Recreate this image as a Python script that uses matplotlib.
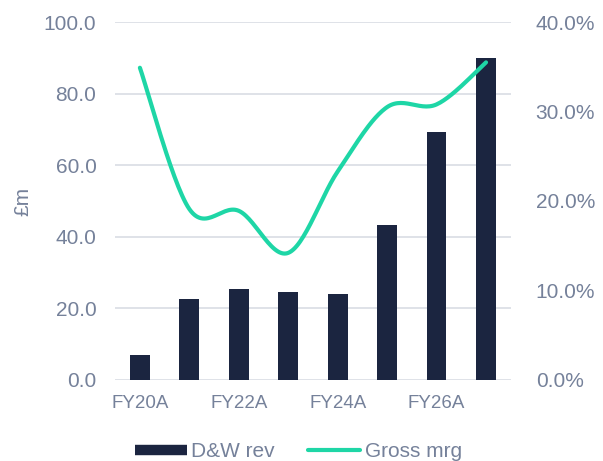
import numpy as np
import matplotlib.pyplot as plt
from matplotlib.lines import Line2D
from matplotlib.ticker import FuncFormatter

# Data
years = ["FY20A", "FY21A", "FY22A", "FY23A", "FY24A", "FY25E", "FY26A", "FY27E"]
revenue = [7.0, 22.5, 25.3, 24.6, 24.0, 43.2, 69.3, 90.0]
gross_margin = [34.9, 19.1, 18.9, 14.2, 23.3, 30.5, 30.8, 35.5]
tick_labels = ["FY20A", "", "FY22A", "", "FY24A", "", "FY26A", ""]

navy = "#1b2540"
green = "#1ed6a6"
grey = "#75819a"
grid_col = "#dcdfe6"

plt.rcParams["font.family"] = ["Liberation Sans", "DejaVu Sans"]


def smooth(xs, ys, n=30):
    # Catmull-Rom style smoothing (like a spreadsheet "smoothed line")
    xs = np.asarray(xs, float)
    ys = np.asarray(ys, float)
    px = np.concatenate([[xs[0]], xs, [xs[-1]]])
    py = np.concatenate([[ys[0]], ys, [ys[-1]]])
    outx, outy = [], []
    t = np.linspace(0, 1, n)
    for i in range(1, len(px) - 2):
        p0x, p1x, p2x, p3x = px[i - 1], px[i], px[i + 1], px[i + 2]
        p0y, p1y, p2y, p3y = py[i - 1], py[i], py[i + 1], py[i + 2]
        c1x, c1y = p1x + (p2x - p0x) / 6, p1y + (p2y - p0y) / 6
        c2x, c2y = p2x - (p3x - p1x) / 6, p2y - (p3y - p1y) / 6
        bx = (1 - t) ** 3 * p1x + 3 * (1 - t) ** 2 * t * c1x + 3 * (1 - t) * t ** 2 * c2x + t ** 3 * p2x
        by = (1 - t) ** 3 * p1y + 3 * (1 - t) ** 2 * t * c1y + 3 * (1 - t) * t ** 2 * c2y + t ** 3 * p2y
        outx.extend(bx)
        outy.extend(by)
    return outx, outy


fig = plt.figure(figsize=(6.03, 4.61), dpi=100)
ax = fig.add_axes([0.191, 0.176, 0.656, 0.776])
x = np.arange(len(years))

ax.bar(x, revenue, width=0.4, color=navy, zorder=3)
ax.set_ylim(0, 100)
ax.set_xlim(-0.5, 7.5)
ax.set_yticks(np.arange(0, 101, 20))
ax.yaxis.set_major_formatter(FuncFormatter(lambda v, p: f"{v:.1f}"))
ax.set_xticks(x)
ax.set_xticklabels(tick_labels)
ax.grid(axis="y", color=grid_col, linewidth=1.3, zorder=0)
ax.set_axisbelow(True)
for s in ax.spines.values():
    s.set_visible(False)
ax.tick_params(axis="y", length=0, labelsize=15, labelcolor=grey, pad=13.5)
ax.tick_params(axis="x", length=0, labelsize=13.5, labelcolor=grey, pad=11)
ax.set_ylabel("£m", fontsize=15, color=grey, labelpad=8)

ax2 = ax.twinx()
sx, sy = smooth(x, gross_margin)
ax2.plot(sx, sy, color=green, linewidth=3, solid_capstyle="round", zorder=4)
ax2.set_ylim(0, 40)
ax2.set_yticks(np.arange(0, 41, 10))
ax2.yaxis.set_major_formatter(FuncFormatter(lambda v, p: f"{v:.1f}%"))
for s in ax2.spines.values():
    s.set_visible(False)
ax2.tick_params(axis="y", length=0, labelsize=15, labelcolor=grey, pad=18)

handles = [
    Line2D([0], [0], color=navy, linewidth=7.5, solid_capstyle="butt"),
    Line2D([0], [0], color=green, linewidth=3, solid_capstyle="round"),
]
fig.legend(handles, ["D&W rev", "Gross mrg"], loc="center", bbox_to_anchor=(0.495, 0.021),
           ncol=2, frameon=False, fontsize=15, labelcolor=grey, handlelength=2.5,
           handletextpad=0.2, columnspacing=1.6)

fig.savefig("out.png", dpi=100)
